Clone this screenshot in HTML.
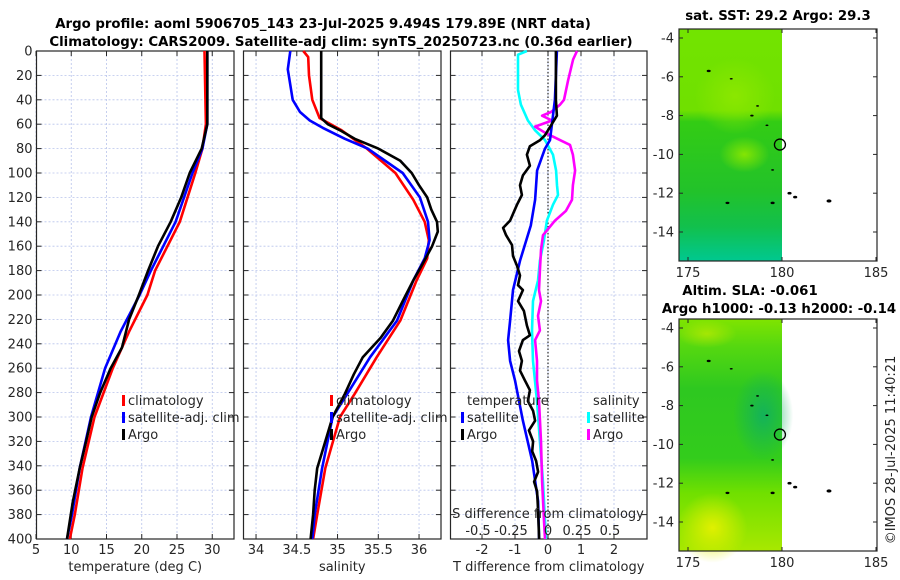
<!DOCTYPE html>
<html><head><meta charset="utf-8"><style>
body{margin:0;background:#fff;}
svg{display:block;font-family:"DejaVu Sans","Liberation Sans",sans-serif;}
.t{font-size:13px;fill:#262626;}
.b{font-size:13.3px;font-weight:bold;fill:#000;}
</style></head><body>
<svg id="chart" width="900" height="580" viewBox="0 0 900 580">
<defs>
<linearGradient id="sst" x1="0" y1="0" x2="0" y2="1">
<stop offset="0" stop-color="#72e400"/><stop offset="0.35" stop-color="#70e000"/>
<stop offset="0.4" stop-color="#33cc14"/><stop offset="0.7" stop-color="#22c22a"/>
<stop offset="0.85" stop-color="#12c04c"/><stop offset="1" stop-color="#00c890"/>
</linearGradient>
<radialGradient id="sstPatch" cx="0.5" cy="0.5" r="0.5"><stop offset="0" stop-color="#8ee800" stop-opacity="0.9"/><stop offset="1" stop-color="#8ee800" stop-opacity="0"/></radialGradient>
<linearGradient id="sla" x1="0" y1="0" x2="0" y2="1">
<stop offset="0" stop-color="#80e400"/><stop offset="0.12" stop-color="#55d810"/>
<stop offset="0.3" stop-color="#2ec820"/><stop offset="0.6" stop-color="#33cc1c"/>
<stop offset="0.75" stop-color="#70e000"/><stop offset="1" stop-color="#a8e800"/>
</linearGradient>
<radialGradient id="slaDark" cx="0.5" cy="0.5" r="0.5"><stop offset="0" stop-color="#10b060" stop-opacity="0.9"/><stop offset="1" stop-color="#10b060" stop-opacity="0"/></radialGradient>
<radialGradient id="slaYel" cx="0.5" cy="0.5" r="0.5"><stop offset="0" stop-color="#e0f000"/><stop offset="1" stop-color="#e0f000" stop-opacity="0"/></radialGradient>
</defs>
<text class="b" x="323" y="28" text-anchor="middle">Argo profile: aoml 5906705_143 23-Jul-2025 9.494S 179.89E (NRT data)</text>
<text class="b" x="341" y="46" text-anchor="middle">Climatology: CARS2009. Satellite-adj clim: synTS_20250723.nc (0.36d earlier)</text>
<g id="p1"></g>
<g id="p2"></g>
<g id="p3"></g>
<g id="maps"></g>
<text class="t" x="0" y="0" transform="translate(895,450) rotate(-90)" text-anchor="middle" style="font-size:13px">©IMOS 28-Jul-2025 11:40:21</text>
</svg>
<script>
// ---- data ----
const tDepthClim=[0,60,80,100,140,180,200,230,260,300,342,380,400];
const tClim=[28.9,29.1,28.6,27.6,25.4,21.9,20.8,18.2,15.9,13.3,11.6,10.5,9.8];
const tDepthSat=[0,60,80,100,140,180,200,230,260,300,342,380,400];
const tSat=[29.3,29.3,28.6,27.2,24.8,21.3,19.7,17.0,14.8,12.8,11.2,10.1,9.4];
const tDepthArgo=[0,60,80,100,120,140,160,180,200,220,243,260,280,300,320,342,370,400];
const tArgo=[29.3,29.3,28.5,26.8,25.6,24.1,22.3,20.9,19.6,18.2,17.2,15.6,14.1,12.9,12.1,11.2,10.2,9.4];
const sDepthClim=[0,5,20,40,55,65,80,100,122,140,155,170,188,221,251,281,300,342,380,400];
const sClim=[34.58,34.64,34.65,34.69,34.78,35.05,35.36,35.71,35.93,36.07,36.12,36.10,35.97,35.77,35.48,35.21,35.03,34.85,34.75,34.70];
const sDepthSat=[0,15,40,50,57,63,72,80,100,120,140,155,170,188,221,251,281,300,342,380,400];
const sSat=[34.42,34.39,34.45,34.54,34.66,34.82,35.09,35.37,35.80,36.01,36.11,36.13,36.07,35.93,35.73,35.40,35.12,34.94,34.81,34.72,34.69];
const sDepthArgo=[0,55,60,65,72,80,90,100,110,120,130,140,148,160,175,188,205,221,235,251,265,281,300,320,342,360,380,400];
const sArgo=[34.80,34.80,34.88,35.03,35.21,35.50,35.77,35.91,36.00,36.10,36.15,36.22,36.23,36.16,36.04,35.93,35.80,35.68,35.53,35.31,35.20,35.09,34.94,34.85,34.75,34.72,34.70,34.67];
const dDepthTSat=[0,40,73,80,98,122,143,172,196,221,237,254,270,303,336,369,400];
const dTSat=[0.27,0.21,0.06,-0.09,-0.33,-0.39,-0.52,-0.85,-1.06,-1.15,-1.21,-1.15,-1.0,-0.76,-0.48,-0.3,-0.27];
const dDepthTArgo=[0,40,53,61,69,73,78,85,94,102,110,118,126,139,145,151,159,168,176,184,192,196,205,213,225,233,237,246,254,262,270,278,287,295,303,311,320,328,336,345,353,361,377,400];
const dTArgo=[0.24,0.24,0.27,0.09,-0.09,-0.24,-0.55,-0.64,-0.55,-0.76,-0.85,-0.79,-0.94,-1.15,-1.36,-1.27,-1.09,-1.06,-0.94,-0.85,-0.91,-0.76,-0.91,-0.73,-0.64,-0.55,-0.76,-0.88,-0.79,-0.85,-0.70,-0.55,-0.61,-0.45,-0.39,-0.58,-0.45,-0.48,-0.36,-0.30,-0.42,-0.33,-0.30,-0.27];
const dDepthSSat=[0,3,16,32,44,57,65,73,85,98,110,118,126,139,155,172,188,205,229,254,287,320,353,385,400];
const dSSat=[-0.16,-0.227,-0.227,-0.227,-0.205,-0.152,-0.098,-0.023,0.038,0.061,0.068,0.076,0.038,-0.008,-0.030,-0.061,-0.076,-0.114,-0.121,-0.114,-0.083,-0.061,-0.038,-0.023,-0.015];
const dDepthSArgo=[0,7,24,40,44,50,53,57,62,67,73,77,85,98,110,122,131,139,151,163,180,196,205,217,229,237,254,270,287,320,353,385,400];
const dSArgo=[0.22,0.19,0.152,0.121,0.091,0.023,-0.045,0.03,-0.098,-0.023,0.091,0.167,0.189,0.205,0.189,0.182,0.136,0.053,-0.038,-0.053,-0.061,-0.068,-0.053,-0.076,-0.061,-0.098,-0.083,-0.083,-0.068,-0.053,-0.045,-0.030,-0.023];
const depthTicks=[0,20,40,60,80,100,120,140,160,180,200,220,240,260,280,300,320,340,360,380,400];
const tTicks=[5,10,15,20,25,30];
const sTicks=[34,34.5,35,35.5,36];
const dTTicks=[-2,-1,0,1,2];
const sdTicks=["-0.5","-0.25","0","0.25","0.5"];
const latTicks=[-4,-6,-8,-10,-12,-14];
const lonTicks=[175,180,185];

const NS='http://www.w3.org/2000/svg';
function mk(tag,attrs,parent){const e=document.createElementNS(NS,tag);for(const k in attrs)e.setAttribute(k,attrs[k]);parent.appendChild(e);return e;}
const TOP=51,BOT=539;
const yD=d=>TOP+d*(BOT-TOP)/400;

function panel(g,x0,x1,xs,xticks,xlab,tickFmt,showY){
  mk('rect',{x:x0,y:TOP,width:x1-x0,height:BOT-TOP,fill:'#fff'},g);
  depthTicks.forEach(d=>{
    const l=mk('line',{x1:x0,x2:x1,y1:yD(d),y2:yD(d),stroke:'#b8c4ec','stroke-width':0.8,'stroke-dasharray':'2,2'},g);
    
    
    mk('line',{x1:x0,x2:x0+5,y1:yD(d),y2:yD(d),stroke:'#262626'},g);
    mk('line',{x1:x1-5,x2:x1,y1:yD(d),y2:yD(d),stroke:'#262626'},g);
    if(showY){const t=mk('text',{x:x0-4,y:yD(d)+4.5,'text-anchor':'end',class:'t'},g);t.textContent=d;
      
      }
  });
  xticks.forEach(v=>{const x=xs(v);
    const l=mk('line',{x1:x,x2:x,y1:TOP,y2:BOT,stroke:'#b8c4ec','stroke-width':0.8,'stroke-dasharray':'2,2'},g);
    
    
    mk('line',{x1:x,x2:x,y1:BOT,y2:BOT-5,stroke:'#262626'},g);
    mk('line',{x1:x,x2:x,y1:TOP,y2:TOP+5,stroke:'#262626'},g);
    const t=mk('text',{x:x,y:BOT+15,'text-anchor':'middle',class:'t'},g);t.textContent=tickFmt(v);
    
    
  });
  const f=mk('rect',{x:x0,y:TOP,width:x1-x0,height:BOT-TOP,fill:'none',stroke:'#262626','stroke-width':1.2},g);
  
  
  const xl=mk('text',{x:(x0+x1)/2,y:BOT+32,'text-anchor':'middle',class:'t'},g);xl.textContent=xlab;
  
  
}
function line(g,depths,vals,xs,color,name){
  const pts=depths.map((d,i)=>xs(vals[i]).toFixed(1)+','+yD(d).toFixed(1)).join(' ');
  const p=mk('polyline',{points:pts,fill:'none',stroke:color,'stroke-width':2.6,'stroke-linejoin':'round'},g);
  
  
}
function legend(g,x,y,items){
  items.forEach((it,i)=>{
    if(it.c){mk('rect',{x:x,y:y+i*17-10,width:3,height:11,fill:it.c},g);}
    const t=mk('text',{x:x+6,y:y+i*17,class:'t'},g);t.textContent=it.t;
    
    
  });
}
// panel 1
const p1=document.getElementById('p1');
const xT=v=>36+(v-5)*7.05;
panel(p1,36.5,234,xT,tTicks,'temperature (deg C)',v=>v,true);
line(p1,tDepthClim,tClim,xT,'#ff0000','temp-climatology-line');
line(p1,tDepthSat,tSat,xT,'#0000ff','temp-satellite-line');
line(p1,tDepthArgo,tArgo,xT,'#000000','temp-argo-line');
legend(p1,122,405,[{c:'#ff0000',t:'climatology'},{c:'#0000ff',t:'satellite-adj. clim'},{c:'#000',t:'Argo'}]);
// panel 2
const p2=document.getElementById('p2');
const xS=v=>243+(v-33.84)*81.5;
panel(p2,243.5,441,xS,sTicks,'salinity',v=>v,false);
line(p2,sDepthClim,sClim,xS,'#ff0000','sal-climatology-line');
line(p2,sDepthSat,sSat,xS,'#0000ff','sal-satellite-line');
line(p2,sDepthArgo,sArgo,xS,'#000000','sal-argo-line');
legend(p2,330,405,[{c:'#ff0000',t:'climatology'},{c:'#0000ff',t:'satellite-adj. clim'},{c:'#000',t:'Argo'}]);
// panel 3
const p3=document.getElementById('p3');
const xDT=v=>548+v*33;
const xDS=v=>548+v*132;
panel(p3,450.5,647,xDT,dTTicks,'T difference from climatology',v=>v,false);
mk('line',{x1:548,x2:548,y1:TOP,y2:BOT,stroke:'#000','stroke-width':1,'stroke-dasharray':'1.5,2'},p3);
line(p3,dDepthSSat,dSSat,xDS,'#00ffff','sdiff-satellite-line');
line(p3,dDepthSArgo,dSArgo,xDS,'#ff00ff','sdiff-argo-line');
line(p3,dDepthTSat,dTSat,xDT,'#0000ff','tdiff-satellite-line');
line(p3,dDepthTArgo,dTArgo,xDT,'#000000','tdiff-argo-line');
legend(p3,461,405,[{t:'temperature'},{c:'#0000ff',t:'satellite'},{c:'#000',t:'Argo'}]);
legend(p3,587,405,[{t:'salinity'},{c:'#00ffff',t:'satellite'},{c:'#ff00ff',t:'Argo'}]);
const sdt=mk('text',{x:548,y:518,'text-anchor':'middle',class:'t'},p3);sdt.textContent='S difference from climatology';


sdTicks.forEach(s=>{const t=mk('text',{x:xDS(parseFloat(s))-(s==='0'?0:4),y:535,'text-anchor':'middle',class:'t'},p3);t.textContent=s;
  
  });
// maps
const mg=document.getElementById('maps');
function map(y0,y1,lat4y,lat14y,fill,extras,title){
  const x0=679,x1=877;
  const lx=v=>688+(v-175)*18.8;
  const ly=v=>lat4y+(-4-v)*(lat14y-lat4y)/10;
  mk('rect',{x:x0,y:y0,width:lx(180)-x0,height:y1-y0,fill:fill},mg);
  extras(lx,ly,x0,y0,y1);
  [[176.1,-5.7,1.5],[177.3,-6.1,1],[178.4,-8,1.2],[178.7,-7.5,1],[179.2,-8.5,1],[179.5,-10.8,1],[177.1,-12.5,1.5],[179.5,-12.5,1.6],[180.4,-12,1.6],[180.7,-12.2,1.6],[182.5,-12.4,2]].forEach(p=>{
    const e=mk('ellipse',{cx:lx(p[0]),cy:ly(p[1]),rx:p[2]+0.5,ry:p[2]*0.8,fill:'#000'},mg);
    
    
  });
  const c=mk('circle',{cx:lx(179.89),cy:ly(-9.494),r:5.5,fill:'none',stroke:'#000','stroke-width':1.3},mg);
  
  
  const fr=mk('rect',{x:x0,y:y0,width:x1-x0,height:y1-y0,fill:'none',stroke:'#262626','stroke-width':1.2},mg);
  
  
  latTicks.forEach(v=>{const y=ly(v);
    mk('line',{x1:x0,x2:x0+4,y1:y,y2:y,stroke:'#262626'},mg);mk('line',{x1:x1-4,x2:x1,y1:y,y2:y,stroke:'#262626'},mg);
    const t=mk('text',{x:x0-5,y:y+4.5,'text-anchor':'end',class:'t'},mg);t.textContent=v;
    
    });
  lonTicks.forEach(v=>{const x=lx(v);
    mk('line',{x1:x,x2:x,y1:y1,y2:y1-4,stroke:'#262626'},mg);mk('line',{x1:x,x2:x,y1:y0,y2:y0+4,stroke:'#262626'},mg);
    const t=mk('text',{x:x,y:y1+16,'text-anchor':'middle',class:'t'},mg);t.textContent=v;
    
    });
  title.forEach((s,i)=>{const t=mk('text',{x:s[1],y:s[2],'text-anchor':'middle',class:'b'},mg);t.textContent=s[0];
    
    });
}
map(29,261,38,232,'url(#sst)',(lx,ly)=>{
  mk('ellipse',{cx:lx(177.5),cy:ly(-7),rx:40,ry:38,fill:'url(#sstPatch)'},mg);
  mk('ellipse',{cx:lx(178),cy:ly(-10),rx:25,ry:18,fill:'url(#sstPatch)'},mg);
},[['sat. SST: 29.2 Argo: 29.3',778,20]]);
map(319,551,328,522,'url(#sla)',(lx,ly)=>{
  mk('ellipse',{cx:lx(179),cy:ly(-8.5),rx:30,ry:45,fill:'url(#slaDark)'},mg);
  mk('ellipse',{cx:lx(176.3),cy:ly(-14.3),rx:35,ry:35,fill:'url(#slaYel)'},mg);
  mk('ellipse',{cx:lx(176),cy:ly(-4.3),rx:30,ry:14,fill:'url(#slaYel)',opacity:0.5},mg);
},[['Altim. SLA: -0.061',750,295],['Argo h1000: -0.13 h2000: -0.14',779,313]]);
</script>
</body></html>
